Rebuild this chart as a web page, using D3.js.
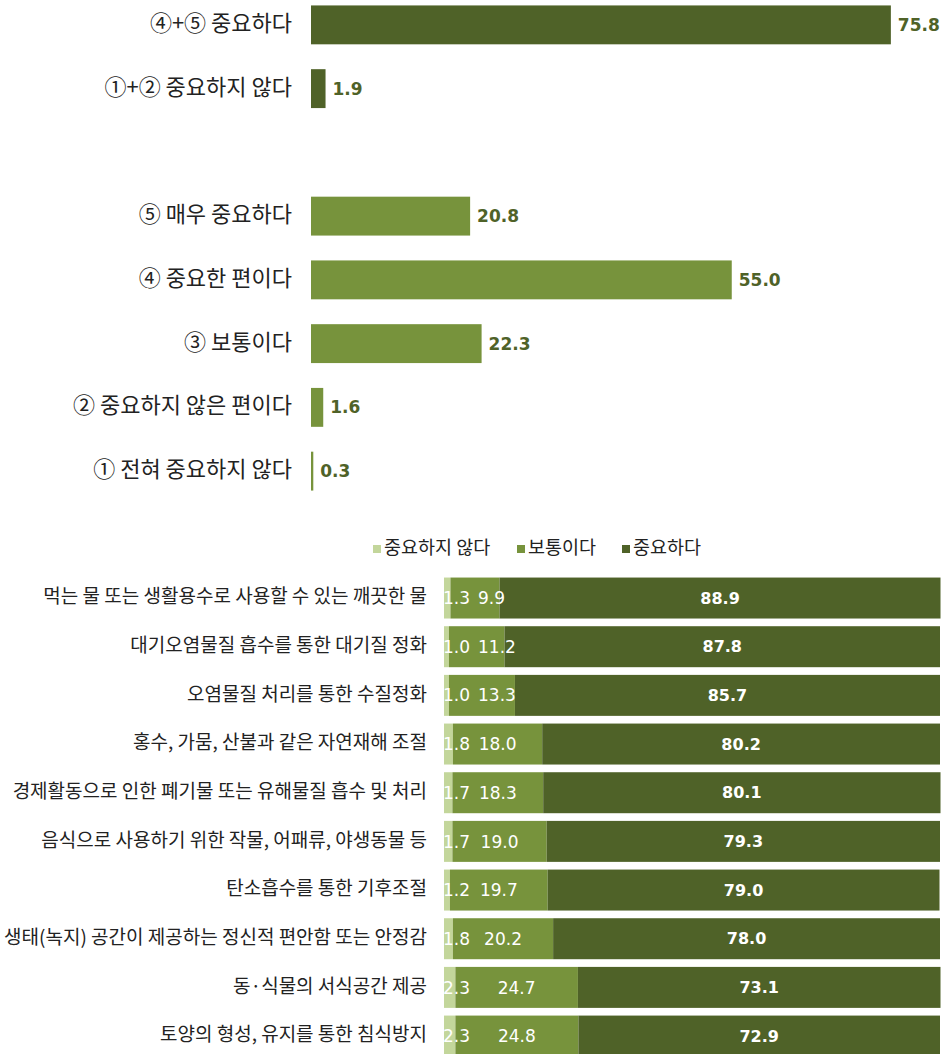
<!DOCTYPE html>
<html>
<head>
<meta charset="utf-8">
<script src="https://cdn.jsdelivr.net/npm/d3@7"></script>
<style>
  body { margin: 0; background: #fff; }
  svg { display: block; }
  .kr { font-family: "Noto Sans CJK KR", "Noto Sans", sans-serif; fill: #222; }
  .num { font-family: "DejaVu Sans", sans-serif; }
</style>
</head>
<body>
<div id="chart"></div>
<script>
// ---- data ----
const SUMMARY_CATS = ['④+⑤ 중요하다', '①+② 중요하지 않다'];
const SUMMARY_VALUES = [75.8, 1.9];

const DETAIL_CATS = ['⑤ 매우 중요하다', '④ 중요한 편이다', '③ 보통이다', '② 중요하지 않은 편이다', '① 전혀 중요하지 않다'];
const DETAIL_VALUES = [20.8, 55.0, 22.3, 1.6, 0.3];

const ITEMS = [
  '먹는 물 또는 생활용수로 사용할 수 있는 깨끗한 물',
  '대기오염물질 흡수를 통한 대기질 정화',
  '오염물질 처리를 통한 수질정화',
  '홍수, 가뭄, 산불과 같은 자연재해 조절',
  '경제활동으로 인한 폐기물 또는 유해물질 흡수 및 처리',
  '음식으로 사용하기 위한 작물, 어패류, 야생동물 등',
  '탄소흡수를 통한 기후조절',
  '생태(녹지) 공간이 제공하는 정신적 편안함 또는 안정감',
  '동·식물의 서식공간 제공',
  '토양의 형성, 유지를 통한 침식방지'
];
const SERIES = ['중요하지 않다', '보통이다', '중요하다'];
const NOT_IMPORTANT = [1.3, 1.0, 1.0, 1.8, 1.7, 1.7, 1.2, 1.8, 2.3, 2.3];
const NEUTRAL       = [9.9, 11.2, 13.3, 18.0, 18.3, 19.0, 19.7, 20.2, 24.7, 24.8];
const IMPORTANT     = [88.9, 87.8, 85.7, 80.2, 80.1, 79.3, 79.0, 78.0, 73.1, 72.9];

// ---- layout ----
const W = 942, H = 1054;
const DARK = '#4f6228', MID = '#77933c', LIGHT = '#c3d69b';

const svg = d3.select('#chart').append('svg').attr('width', W).attr('height', H);
svg.append('rect').attr('width', W).attr('height', H).attr('fill', '#fff');

// =========================================================
// upper chart: single distribution bars
// =========================================================
const topRows = [
  ...SUMMARY_CATS.map((c, i) => ({ cat: c, value: SUMMARY_VALUES[i], color: DARK })),
  { cat: '__gap__', value: null },
  ...DETAIL_CATS.map((c, i) => ({ cat: c, value: DETAIL_VALUES[i], color: MID }))
];

const xTop = d3.scaleLinear().domain([0, 100]).range([311, 1076]);
const yTop = d3.scaleBand().domain(topRows.map(d => d.cat))
  .range([-7, 503]).paddingInner(0.39).paddingOuter(0.195);

const upper = svg.append('g');
const topBars = upper.selectAll('g.row').data(topRows.filter(d => d.value != null)).join('g')
  .attr('class', 'row')
  .attr('transform', d => `translate(0,${yTop(d.cat)})`);

topBars.append('rect')
  .attr('x', xTop(0)).attr('y', 0)
  .attr('width', d => xTop(d.value) - xTop(0))
  .attr('height', yTop.bandwidth())
  .attr('fill', d => d.color);

topBars.append('text').attr('class', 'num')
  .attr('x', d => xTop(d.value) + 7)
  .attr('y', yTop.bandwidth() / 2).attr('dy', '0.36em')
  .attr('font-size', 17).attr('font-weight', 'bold')
  .attr('fill', DARK)
  .text(d => d.value.toFixed(1));

topBars.append('text').attr('class', 'kr')
  .attr('x', 292).attr('y', yTop.bandwidth() / 2)
  .attr('dominant-baseline', 'middle')
  .attr('text-anchor', 'end')
  .attr('font-size', 22)
  .text(d => d.cat);

// =========================================================
// lower chart: stacked 100% bars
// =========================================================
const table = ITEMS.map((item, i) => ({
  item,
  [SERIES[0]]: NOT_IMPORTANT[i],
  [SERIES[1]]: NEUTRAL[i],
  [SERIES[2]]: IMPORTANT[i]
}));
const stacked = d3.stack().keys(SERIES)(table);
const color = d3.scaleOrdinal().domain(SERIES).range([LIGHT, MID, DARK]);

const xBot = d3.scaleLinear().domain([0, 100]).range([444, 940]);
const yBot = d3.scaleBand().domain(ITEMS)
  .range([573.7, 1060.4]).paddingInner(0.158).paddingOuter(0.079);

const lower = svg.append('g');

lower.selectAll('g.series').data(stacked).join('g')
  .attr('class', 'series')
  .attr('fill', s => color(s.key))
  .selectAll('rect').data(s => s).join('rect')
  .attr('x', d => xBot(d[0]))
  .attr('y', d => yBot(d.data.item))
  .attr('width', d => xBot(d[1]) - xBot(d[0]))
  .attr('height', yBot.bandwidth());

// category labels
lower.selectAll('text.item').data(ITEMS).join('text')
  .attr('class', 'kr item')
  .attr('x', 427)
  .attr('y', d => yBot(d) + yBot.bandwidth() / 2)
  .attr('dominant-baseline', 'middle')
  .attr('text-anchor', 'end')
  .attr('font-size', 19)
  .text(d => d);

// value labels
const labelG = lower.append('g').attr('class', 'num').attr('fill', '#fff');
table.forEach((row, i) => {
  const cy = yBot(row.item) + yBot.bandwidth() / 2;
  const s0 = stacked[0][i], s1 = stacked[1][i], s2 = stacked[2][i];

  const t0 = labelG.append('text')
    .attr('x', xBot(s0[0]) - 1).attr('y', cy).attr('dy', '0.36em')
    .attr('font-size', 17)
    .text(NOT_IMPORTANT[i].toFixed(1));
  const end0 = xBot(s0[0]) - 1 + t0.node().getComputedTextLength();

  const t1 = labelG.append('text')
    .attr('y', cy).attr('dy', '0.36em')
    .attr('font-size', 17)
    .text(NEUTRAL[i].toFixed(1));
  const w1 = t1.node().getComputedTextLength();
  const left1 = Math.max((xBot(s1[0]) + xBot(s1[1])) / 2 - w1 / 2, end0 + 8);
  t1.attr('x', left1);

  labelG.append('text')
    .attr('x', (xBot(s2[0]) + xBot(s2[1])) / 2).attr('y', cy).attr('dy', '0.36em')
    .attr('text-anchor', 'middle')
    .attr('font-size', 16).attr('font-weight', 'bold')
    .text(IMPORTANT[i].toFixed(1));
});

// legend
const LEGEND_X = [373, 517, 622];
const legend = svg.append('g').attr('transform', 'translate(0,549)');
const li = legend.selectAll('g').data(SERIES).join('g')
  .attr('transform', (d, i) => `translate(${LEGEND_X[i]},0)`);
li.append('rect').attr('x', 0).attr('y', -4).attr('width', 8).attr('height', 8)
  .attr('fill', d => color(d));
li.append('text').attr('class', 'kr')
  .attr('x', 11).attr('y', 0)
  .attr('dominant-baseline', 'middle')
  .attr('font-size', 18.5)
  .text(d => d);
</script>
</body>
</html>
